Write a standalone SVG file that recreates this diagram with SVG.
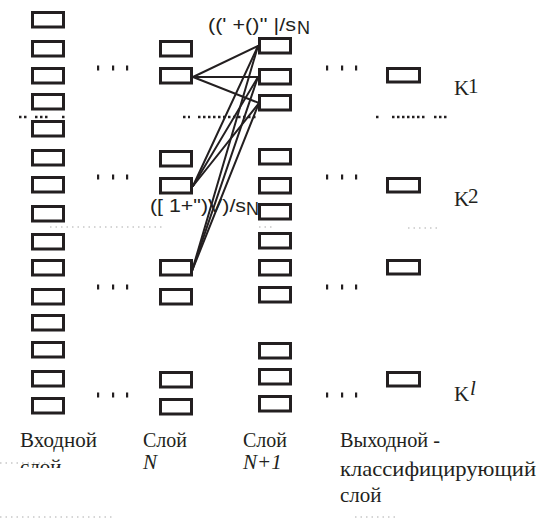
<svg xmlns="http://www.w3.org/2000/svg" width="542" height="522" viewBox="0 0 542 522">
<style>
.b{fill:#fff;stroke:#231f20;stroke-width:3}
.c{stroke:#231f20;stroke-width:2;fill:none;stroke-linecap:round}
.d{stroke:#231f20;stroke-width:2.5;stroke-dasharray:2.5 2.5;fill:none}
.f{stroke:#c8c8c8;stroke-width:1.5;stroke-dasharray:1.5 4;fill:none}
.e{fill:#231f20}
.t{font-family:'Liberation Serif','DejaVu Serif',serif;font-size:21px;fill:#231f20}
.s{font-family:'Liberation Sans','DejaVu Sans',sans-serif;font-size:18px;fill:#231f20}
</style>
<defs>
<clipPath id="clipL"><rect x="0" y="0" width="120" height="468"/></clipPath>
<g id="dots3"><rect x="0" y="-2.5" width="2.2" height="5"/><rect x="15" y="-2.5" width="2.2" height="5"/><rect x="29" y="-2.5" width="2.2" height="5"/></g>
</defs>

<g id="input-layer">
<rect class="b" x="32.5" y="12.5" width="31" height="14.5"/>
<rect class="b" x="32.5" y="41.5" width="31" height="14.5"/>
<rect class="b" x="32.5" y="68.5" width="31" height="14.5"/>
<rect class="b" x="32.5" y="94.5" width="31" height="14.5"/>
<rect class="b" x="32.5" y="121.5" width="31" height="14.5"/>
<rect class="b" x="32.5" y="150.5" width="31" height="14.5"/>
<rect class="b" x="32.5" y="177.5" width="31" height="14.5"/>
<rect class="b" x="32.5" y="206.5" width="31" height="14.5"/>
<rect class="b" x="32.5" y="234.5" width="31" height="14.5"/>
<rect class="b" x="32.5" y="260.5" width="31" height="14.5"/>
<rect class="b" x="32.5" y="289.5" width="31" height="14.5"/>
<rect class="b" x="32.5" y="315.5" width="31" height="14.5"/>
<rect class="b" x="32.5" y="342.5" width="31" height="14.5"/>
<rect class="b" x="32.5" y="371.5" width="31" height="14.5"/>
<rect class="b" x="32.5" y="398.5" width="31" height="14.5"/>
</g>

<g id="layer-n">
<rect class="b" x="160.5" y="41.5" width="31" height="14.5"/>
<rect class="b" x="160.5" y="68.5" width="31" height="14.5"/>
<rect class="b" x="160.5" y="151.5" width="31" height="14.5"/>
<rect class="b" x="160.5" y="178.5" width="31" height="14.5"/>
<rect class="b" x="160.5" y="260.5" width="31" height="14.5"/>
<rect class="b" x="160.5" y="289.5" width="31" height="14.5"/>
<rect class="b" x="160.5" y="372.5" width="31" height="14.5"/>
<rect class="b" x="160.5" y="399.5" width="31" height="14.5"/>
</g>

<g id="layer-n1">
<rect class="b" x="259.5" y="38.5" width="31" height="14.5"/>
<rect class="b" x="259.5" y="69.5" width="31" height="14.5"/>
<rect class="b" x="259.5" y="95.5" width="31" height="14.5"/>
<rect class="b" x="259.5" y="149.5" width="31" height="14.5"/>
<rect class="b" x="259.5" y="178.5" width="31" height="14.5"/>
<rect class="b" x="259.5" y="204.5" width="31" height="14.5"/>
<rect class="b" x="259.5" y="233.5" width="31" height="14.5"/>
<rect class="b" x="259.5" y="260.5" width="31" height="14.5"/>
<rect class="b" x="259.5" y="287.5" width="31" height="14.5"/>
<rect class="b" x="259.5" y="343.5" width="31" height="14.5"/>
<rect class="b" x="259.5" y="369.5" width="31" height="14.5"/>
<rect class="b" x="259.5" y="396.5" width="31" height="14.5"/>
</g>

<g id="output-layer">
<rect class="b" x="387.5" y="68.5" width="32" height="13.5"/>
<rect class="b" x="387.5" y="178.5" width="32" height="13.5"/>
<rect class="b" x="387.5" y="260.5" width="32" height="13.5"/>
<rect class="b" x="387.5" y="372.5" width="32" height="13.5"/>
</g>

<g id="connectors">
<line class="c" x1="193" y1="77" x2="258" y2="46" stroke-width="1.5"/>
<line class="c" x1="193" y1="77" x2="258" y2="77" stroke-width="1.3"/>
<line class="c" x1="193" y1="77" x2="259" y2="103" stroke-width="2.4"/>
<line class="c" x1="193" y1="186" x2="258" y2="46"/>
<line class="c" x1="193" y1="186" x2="258" y2="77"/>
<line class="c" x1="193" y1="186" x2="259" y2="103"/>
<line class="c" x1="192" y1="271" x2="258" y2="46"/>
<line class="c" x1="192" y1="271" x2="258" y2="77"/>
<line class="c" x1="192" y1="271" x2="259" y2="103"/>
</g>

<g id="ellipses" class="e">
<use href="#dots3" x="97" y="68"/>
<use href="#dots3" x="97" y="177"/>
<use href="#dots3" x="97" y="287"/>
<use href="#dots3" x="97" y="395"/>
<use href="#dots3" x="326" y="68"/>
<use href="#dots3" x="326" y="177"/>
<use href="#dots3" x="326" y="287"/>
<use href="#dots3" x="326" y="395"/>
</g>

<g id="separator">
<line class="d" x1="19" y1="117" x2="27" y2="117"/>
<line class="d" x1="35" y1="117" x2="49" y2="117"/>
<line class="d" x1="62" y1="117" x2="64.5" y2="117"/>
<line class="d" x1="183" y1="117" x2="190" y2="117"/>
<line class="d" x1="198" y1="117" x2="256" y2="117"/>
<line class="d" x1="376" y1="117" x2="378.5" y2="117"/>
<line class="d" x1="392" y1="117" x2="427" y2="117"/>
<line class="d" x1="434" y1="117" x2="449" y2="117"/>
<line class="f" x1="50" y1="227" x2="165" y2="227"/>
<line class="f" x1="259" y1="227" x2="272" y2="227"/>
<line class="f" x1="408" y1="228" x2="440" y2="228"/>
<line class="f" x1="0" y1="463" x2="50" y2="463"/>
<line class="f" x1="0" y1="517" x2="115" y2="517"/>
<line class="f" x1="355" y1="517" x2="398" y2="517"/>
</g>

<g id="formula-labels">
<text class="s" x="208" y="31" textLength="88" lengthAdjust="spacingAndGlyphs">((' +()'' |/s</text>
<text class="s" x="297" y="34" font-size="8">N</text>
<text class="s" x="150" y="212" textLength="96" lengthAdjust="spacingAndGlyphs">([ 1+")V)/s</text>
<text class="s" x="246" y="215" font-size="8">N</text>
</g>

<g id="class-labels">
<text class="t" x="454" y="95">K</text><text class="t" x="468" y="93" font-size="14">1</text>
<text class="t" x="454" y="206">K</text><text class="t" x="468" y="203" font-size="15">2</text>
<text class="t" x="454" y="401">K</text><text class="t" x="470" y="395" font-size="15" font-style="italic">l</text>
</g>

<g id="layer-labels">
<text class="t" x="20" y="447" textLength="77" lengthAdjust="spacingAndGlyphs">Входной</text>
<text class="t" x="20" y="474" clip-path="url(#clipL)">слой</text>
<text class="t" x="143" y="447" textLength="44" lengthAdjust="spacingAndGlyphs">Слой</text>
<text class="t" x="143" y="469" font-style="italic" font-size="20">N</text>
<text class="t" x="243" y="447" textLength="44" lengthAdjust="spacingAndGlyphs">Слой</text>
<text class="t" x="243" y="469" font-style="italic" font-size="20">N+1</text>
<text class="t" x="340" y="447" textLength="100" lengthAdjust="spacingAndGlyphs">Выходной -</text>
<text class="t" x="340" y="476" textLength="196" lengthAdjust="spacingAndGlyphs">классифицирующий</text>
<text class="t" x="340" y="502">слой</text>
</g>
</svg>
